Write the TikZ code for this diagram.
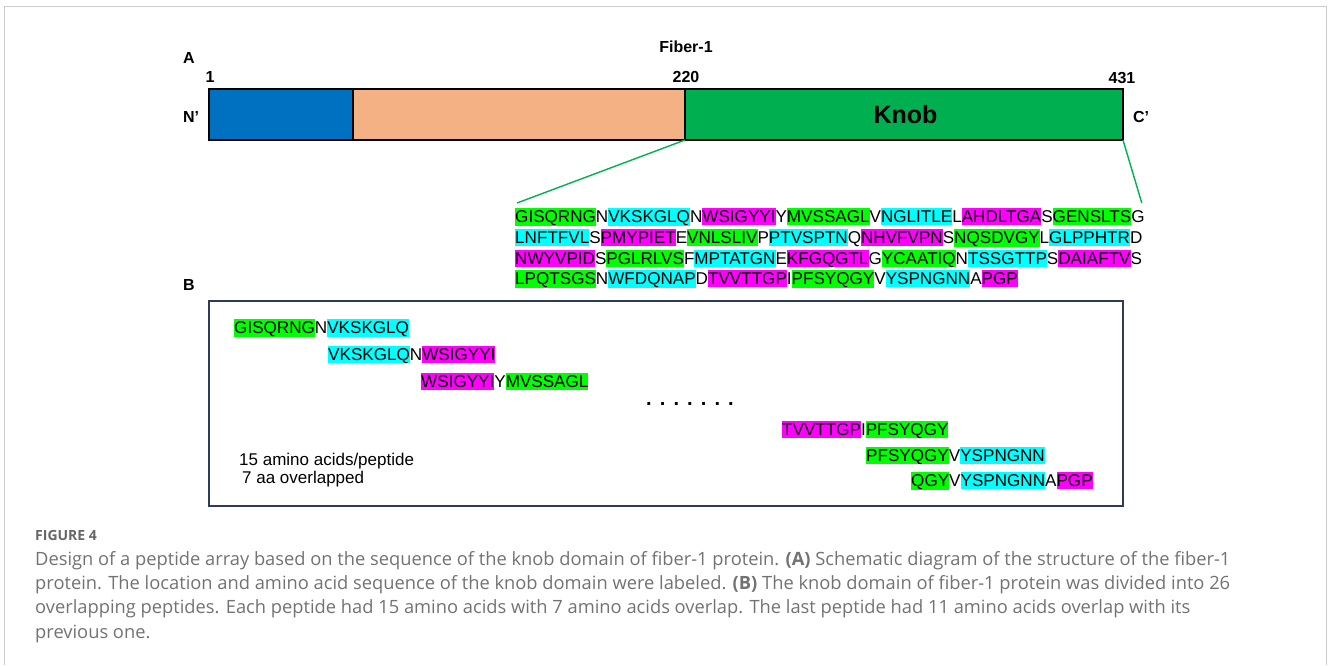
\documentclass[tikz,border=0pt]{standalone}
\usepackage{fontspec}
\setmainfont{Liberation Sans}
\newfontfamily\capfont{Open Sans}
\definecolor{hg}{HTML}{00FF00}
\definecolor{hc}{HTML}{00FFFF}
\definecolor{hm}{HTML}{FF00FF}
\definecolor{barblue}{HTML}{0070C0}
\definecolor{barpeach}{HTML}{F4B183}
\definecolor{bargreen}{HTML}{00B050}
\definecolor{zoomgreen}{HTML}{00B050}
\definecolor{boxnavy}{HTML}{2F3B5C}
\definecolor{framegray}{HTML}{CCCCCC}
\definecolor{capgray}{HTML}{727272}
\definecolor{figgray}{HTML}{666666}
\newcommand\hlstrut{\rule[-2.6pt]{0pt}{17.0pt}}
\newcommand\hlbox[2]{{\setlength{\fboxsep}{0pt}\colorbox{#1}{\hlstrut#2}}}
\begin{document}
\begin{tikzpicture}[x=1pt,y=-1pt,
  seq/.style={anchor=base west, inner sep=0pt, font=\fontsize{17.1}{20}\selectfont},
  lab/.style={anchor=base, inner sep=0pt, font=\fontsize{16}{19}\bfseries\selectfont},
  barseg/.style={draw=black, line width=1.5pt, minimum height=51pt, inner sep=0pt, outer sep=0pt},
  zoomline/.style={draw=zoomgreen, line width=1.4pt},
  note/.style={anchor=base west, inner sep=0pt, font=\fontsize{17}{20}\selectfont},
  captext/.style={anchor=base west, inner sep=0pt, text=capgray, font=\capfont\fontsize{18.3}{22}\selectfont}]
\useasboundingbox (0,0) rectangle (1328,665);
\draw[framegray, line width=1pt] (4.5,665) -- (4.5,6.5) -- (1326.5,6.5) -- (1326.5,665);
% Panel A
\node[lab] (labA) at (189,63) {A};
\node[lab] (fiber) at (686,52) {Fiber-1};
\node[lab] (p1) at (210,82) {1};
\node[lab] (p220) at (686,82) {220};
\node[lab] (p431) at (1122,83) {431};
\node[lab] (nt) at (191,122) {N'};
\node[lab] (ct) at (1141,122) {C'};
\node[barseg, fill=barblue, minimum width=144pt] (seg1) at (281,114.5) {};
\node[barseg, fill=barpeach, minimum width=332pt] (seg2) at (519,114.5) {};
\node[barseg, fill=bargreen, minimum width=438pt, font=\fontsize{25}{28}\bfseries\selectfont] (knob) at (904,114.5) {\hspace{3pt}Knob};
\node[seq] (r1) at (515,222.6) {\hlbox{hg}{GISQRNG}N\hlbox{hc}{VKSKGLQ}N\hlbox{hm}{WSIGYYI}Y\hlbox{hg}{MVSSAGL}V\hlbox{hc}{NGLITLE}L\hlbox{hm}{AHDLTGA}S\hlbox{hg}{GENSLTS}G};
\node[seq] (r2) at (515,243.3) {\hlbox{hc}{LNFTFVL}S\hlbox{hm}{PMYPIET}E\hlbox{hg}{VNLSLIV}P\hlbox{hc}{PTVSPTN}Q\hlbox{hm}{NHVFVPN}S\hlbox{hg}{NQSDVGY}L\hlbox{hc}{GLPPHTR}D};
\node[seq] (r3) at (515,264.0) {\hlbox{hm}{NWYVPID}S\hlbox{hg}{PGLRLVS}F\hlbox{hc}{MPTATGN}E\hlbox{hm}{KFGQGTL}G\hlbox{hg}{YCAATIQ}N\hlbox{hc}{TSSGTTP}S\hlbox{hm}{DAIAFTV}S};
\node[seq] (r4) at (515,284.6) {\hlbox{hg}{LPQTSGS}N\hlbox{hc}{WFDQNAP}D\hlbox{hm}{TVVTTGP}I\hlbox{hg}{PFSYQGY}V\hlbox{hc}{YSPNGNN}A\hlbox{hm}{PGP}};
\draw[zoomline] (knob.south west) -- ([xshift=2pt,yshift=5pt]r1.north west);
\draw[zoomline] (knob.south east) -- ([xshift=-3pt,yshift=5pt]r1.north east);
% Panel B
\node[lab] (labB) at (189,290) {B};
\node[draw=boxnavy, line width=2pt, minimum width=914pt, minimum height=205pt, inner sep=0pt] (boxB) at (666,403.5) {};
\node[seq] (b1) at (234,333.3) {\hlbox{hg}{GISQRNG}N\hlbox{hc}{VKSKGLQ}};
\node[seq] (b2) at (328,360.2) {\hlbox{hc}{VKSKGLQ}N\hlbox{hm}{WSIGYYI}};
\node[seq] (b3) at (421,387.0) {\hlbox{hm}{WSIGYYI}Y\hlbox{hg}{MVSSAGL}};
\node[anchor=base west, inner sep=0pt, font=\fontsize{20}{20}\bfseries\selectfont] (dots) at (646,405.8) {.\hspace{8.1pt}.\hspace{8.1pt}.\hspace{8.1pt}.\hspace{8.1pt}.\hspace{8.1pt}.\hspace{8.1pt}.};
\node[seq] (b4) at (782,435.0) {\hlbox{hm}{TVVTTGP}I\hlbox{hg}{PFSYQGY}};
\node[seq] (b5) at (866,461.0) {\hlbox{hg}{PFSYQGY}V\hlbox{hc}{YSPNGNN}};
\node[seq] (b6) at (911,486.5) {\hlbox{hg}{QGY}V\hlbox{hc}{YSPNGNN}A\hlbox{hm}{PGP}};
\node[note] (n1) at (239,465) {15 amino acids/peptide};
\node[note] (n2) at (242,483) {7 aa overlapped};
% Caption
\node[anchor=base west, inner sep=0pt, text=figgray, font=\capfont\fontsize{14}{16}\bfseries\selectfont] (fig) at (35,540) {FIGURE 4};
\node[captext] (c1) at (35,565) {Design of a peptide array based on the sequence of the knob domain of fiber-1 protein. \textbf{(A)} Schematic diagram of the structure of the fiber-1};
\node[captext] (c2) at (35,589.3) {protein. The location and amino acid sequence of the knob domain were labeled. \textbf{(B)} The knob domain of fiber-1 protein was divided into 26};
\node[captext] (c3) at (35,613.6) {overlapping peptides. Each peptide had 15 amino acids with 7 amino acids overlap. The last peptide had 11 amino acids overlap with its};
\node[captext] (c4) at (35,638) {previous one.};
\end{tikzpicture}
\end{document}
